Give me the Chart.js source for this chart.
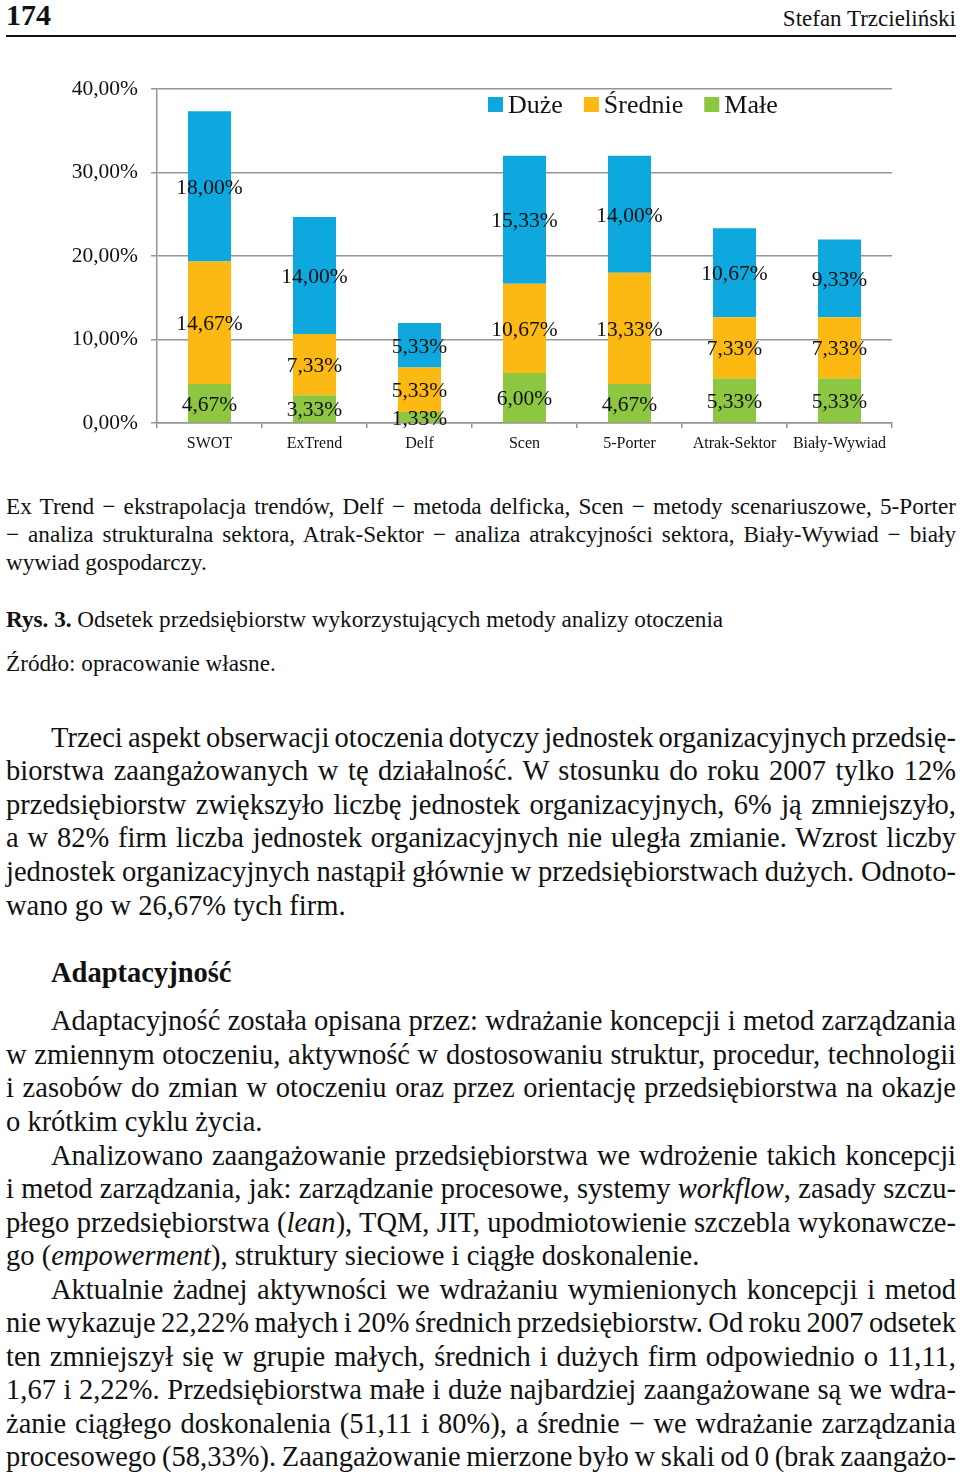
<!DOCTYPE html>
<html lang="pl">
<head>
<meta charset="utf-8">
<title>Rys. 3. Odsetek przedsiębiorstw wykorzystujących metody analizy otoczenia</title>
<script src="https://cdn.jsdelivr.net/npm/chart.js@4.4.0/dist/chart.umd.min.js"></script>
<style>
    html, body { margin: 0; padding: 0; background: #fff; }
    body {
        width: 960px; height: 1475px; position: relative; overflow: hidden;
        font-family: "Liberation Serif", "Times New Roman", serif; color: #111;
    }
    .ln { position: absolute; white-space: nowrap; line-height: 1; }
    .b { font-weight: bold; }
    .rule { position: absolute; left: 6px; top: 35px; width: 950px; height: 2px; background: #111; }
    .chart-box { position: absolute; left: 0; top: 60px; width: 960px; height: 420px; }
</style>
</head>
<body>

<div class="ln b" style="left:6px;font-size:30px" data-b="25">174</div>
<div class="ln" style="right:4px;font-size:23px" data-b="26">Stefan Trzcieliński</div>
<div class="rule"></div>

<div class="chart-box"><canvas id="chart" width="960" height="420"></canvas></div>

<!-- legenda pod rysunkiem -->
<div class="ln j" style="left:6px;font-size:23.2px" data-b="514" data-w="950">Ex Trend − ekstrapolacja trendów, Delf − metoda delficka, Scen − metody scenariuszowe, 5-Porter</div>
<div class="ln j" style="left:6px;font-size:23.2px" data-b="542" data-w="950">− analiza strukturalna sektora, Atrak-Sektor − analiza atrakcyjności sektora, Biały-Wywiad − biały</div>
<div class="ln" style="left:6px;font-size:23.2px" data-b="570">wywiad gospodarczy.</div>
<div class="ln" style="left:6px;font-size:23.2px" data-b="627"><b>Rys. 3.</b> Odsetek przedsiębiorstw wykorzystujących metody analizy otoczenia</div>
<div class="ln" style="left:6px;font-size:23.2px" data-b="671">Źródło: opracowanie własne.</div>

<!-- tekst glowny -->
<div class="ln j" style="left:51px;font-size:28.5px" data-b="748" data-w="905">Trzeci aspekt obserwacji otoczenia dotyczy jednostek organizacyjnych przedsię-</div>
<div class="ln j" style="left:6px;font-size:28.5px" data-b="781" data-w="950">biorstwa zaangażowanych w tę działalność. W stosunku do roku 2007 tylko 12%</div>
<div class="ln j" style="left:6px;font-size:28.5px" data-b="815" data-w="950">przedsiębiorstw zwiększyło liczbę jednostek organizacyjnych, 6% ją zmniejszyło,</div>
<div class="ln j" style="left:6px;font-size:28.5px" data-b="848" data-w="950">a w 82% firm liczba jednostek organizacyjnych nie uległa zmianie. Wzrost liczby</div>
<div class="ln j" style="left:6px;font-size:28.5px" data-b="882" data-w="950">jednostek organizacyjnych nastąpił głównie w przedsiębiorstwach dużych. Odnoto-</div>
<div class="ln" style="left:6px;font-size:28.5px" data-b="916">wano go w 26,67% tych firm.</div>

<div class="ln b" style="left:51px;font-size:28.5px" data-b="983">Adaptacyjność</div>

<div class="ln j" style="left:51px;font-size:28.5px" data-b="1031" data-w="905">Adaptacyjność została opisana przez: wdrażanie koncepcji i metod zarządzania</div>
<div class="ln j" style="left:6px;font-size:28.5px" data-b="1065" data-w="950">w zmiennym otoczeniu, aktywność w dostosowaniu struktur, procedur, technologii</div>
<div class="ln j" style="left:6px;font-size:28.5px" data-b="1098" data-w="950">i zasobów do zmian w otoczeniu oraz przez orientację przedsiębiorstwa na okazje</div>
<div class="ln" style="left:6px;font-size:28.5px" data-b="1132">o krótkim cyklu życia.</div>
<div class="ln j" style="left:51px;font-size:28.5px" data-b="1166" data-w="905">Analizowano zaangażowanie przedsiębiorstwa we wdrożenie takich koncepcji</div>
<div class="ln j" style="left:6px;font-size:28.5px" data-b="1199" data-w="950">i metod zarządzania, jak: zarządzanie procesowe, systemy <i>workflow</i>, zasady szczu-</div>
<div class="ln j" style="left:6px;font-size:28.5px" data-b="1233" data-w="950">płego przedsiębiorstwa (<i>lean</i>), TQM, JIT, upodmiotowienie szczebla wykonawcze-</div>
<div class="ln" style="left:6px;font-size:28.5px" data-b="1266">go (<i>empowerment</i>), struktury sieciowe i ciągłe doskonalenie.</div>
<div class="ln j" style="left:51px;font-size:28.5px" data-b="1300" data-w="905">Aktualnie żadnej aktywności we wdrażaniu wymienionych koncepcji i metod</div>
<div class="ln j" style="left:6px;font-size:28.5px" data-b="1333" data-w="950">nie wykazuje 22,22% małych i 20% średnich przedsiębiorstw. Od roku 2007 odsetek</div>
<div class="ln j" style="left:6px;font-size:28.5px" data-b="1367" data-w="950">ten zmniejszył się w grupie małych, średnich i dużych firm odpowiednio o 11,11,</div>
<div class="ln j" style="left:6px;font-size:28.5px" data-b="1400" data-w="950">1,67 i 2,22%. Przedsiębiorstwa małe i duże najbardziej zaangażowane są we wdra-</div>
<div class="ln j" style="left:6px;font-size:28.5px" data-b="1434" data-w="950">żanie ciągłego doskonalenia (51,11 i 80%), a średnie − we wdrażanie zarządzania</div>
<div class="ln j" style="left:6px;font-size:28.5px" data-b="1467" data-w="950">procesowego (58,33%). Zaangażowanie mierzone było w skali od 0 (brak zaangażo-</div>

<script>
// dane z rysunku
const categories = ['SWOT', 'ExTrend', 'Delf', 'Scen', '5-Porter', 'Atrak-Sektor', 'Biały-Wywiad'];
const seriesNames = ['Duże', 'Średnie', 'Małe'];
const seriesColors = ['#0ea7de', '#fdb913', '#8dc641'];
const duze = [18.00, 14.00, 5.33, 15.33, 14.00, 10.67, 9.33];
const srednie = [14.67, 7.33, 5.33, 10.67, 13.33, 7.33, 7.33];
const male = [4.67, 3.33, 1.33, 6.00, 4.67, 5.33, 5.33];
const yTickLabels = ['0,00%', '10,00%', '20,00%', '30,00%', '40,00%'];

const SERIF = '"Liberation Serif", "Times New Roman", serif';
const TEXT = '#111';
const GRID = '#959595';

function fmt(v) {
    return v.toFixed(2).replace('.', ',') + '%';
}

// place text lines by baseline, justify full lines
document.querySelectorAll('.ln').forEach(el => {
    const fs = parseFloat(el.style.fontSize);
    el.style.top = (parseFloat(el.dataset.b) - 0.8375 * fs) + 'px';
});
document.querySelectorAll('.j').forEach(el => {
    const target = parseFloat(el.dataset.w);
    const spaces = (el.textContent.match(/ /g) || []).length;
    const natural = el.getBoundingClientRect().width;
    if (spaces) el.style.wordSpacing = ((target - natural) / spaces) + 'px';
});

// value labels in the middle of each segment
const segmentLabels = {
    id: 'segmentLabels',
    afterDatasetsDraw(chart) {
        const ctx = chart.ctx;
        ctx.save();
        ctx.font = '21.5px ' + SERIF;
        ctx.fillStyle = TEXT;
        ctx.textAlign = 'center';
        ctx.textBaseline = 'alphabetic';
        chart.data.datasets.forEach((ds, di) => {
            chart.getDatasetMeta(di).data.forEach((bar, i) => {
                const p = bar.getProps(['x', 'y', 'base'], true);
                ctx.fillText(fmt(ds.data[i]), p.x, (p.y + p.base) / 2 + 7.5);
            });
        });
        ctx.restore();
    }
};

// legend drawn inside the plot area, like the original
const topLegend = {
    id: 'topLegend',
    afterDraw(chart) {
        const ctx = chart.ctx;
        const area = chart.chartArea;
        ctx.save();
        ctx.font = '26px ' + SERIF;
        ctx.textBaseline = 'alphabetic';
        let x = area.left + 331;
        seriesNames.forEach((name, i) => {
            ctx.fillStyle = seriesColors[i];
            ctx.fillRect(x, area.top + 8, 15, 15);
            x += 20;
            ctx.fillStyle = TEXT;
            ctx.fillText(name, x, area.top + 24);
            x += ctx.measureText(name).width + 21;
        });
        ctx.restore();
    }
};

const chart = new Chart(document.getElementById('chart'), {
    type: 'bar',
    data: {
        labels: categories,
        datasets: [
            { label: seriesNames[2], data: male, backgroundColor: seriesColors[2] },
            { label: seriesNames[1], data: srednie, backgroundColor: seriesColors[1] },
            { label: seriesNames[0], data: duze, backgroundColor: seriesColors[0] }
        ]
    },
    options: {
        responsive: false,
        animation: false,
        layout: { padding: { left: 0, right: 68, top: 29, bottom: 17 } },
        datasets: {
            bar: { barPercentage: 0.41, categoryPercentage: 1.0, borderWidth: 0 }
        },
        plugins: {
            legend: { display: false },
            tooltip: { enabled: false }
        },
        scales: {
            x: {
                stacked: true,
                afterFit: s => { s.height = 40; },
                grid: { drawOnChartArea: false, drawTicks: true, tickLength: 5, color: GRID, lineWidth: 1.5, offset: true },
                border: { display: true, color: GRID, width: 1.5 },
                ticks: { color: TEXT, padding: 6, font: { family: SERIF, size: 16 }, maxRotation: 0 }
            },
            y: {
                stacked: true,
                min: 0,
                max: 40,
                afterFit: s => { s.width = 157; },
                grid: { color: GRID, lineWidth: 1.5, tickLength: 6 },
                border: { display: true, color: GRID, width: 1.5 },
                ticks: {
                    stepSize: 10,
                    color: TEXT,
                    padding: 13,
                    font: { family: SERIF, size: 21.5 },
                    callback: (v, i) => yTickLabels[i]
                }
            }
        }
    },
    plugins: [segmentLabels, topLegend]
});
</script>
</body>
</html>
